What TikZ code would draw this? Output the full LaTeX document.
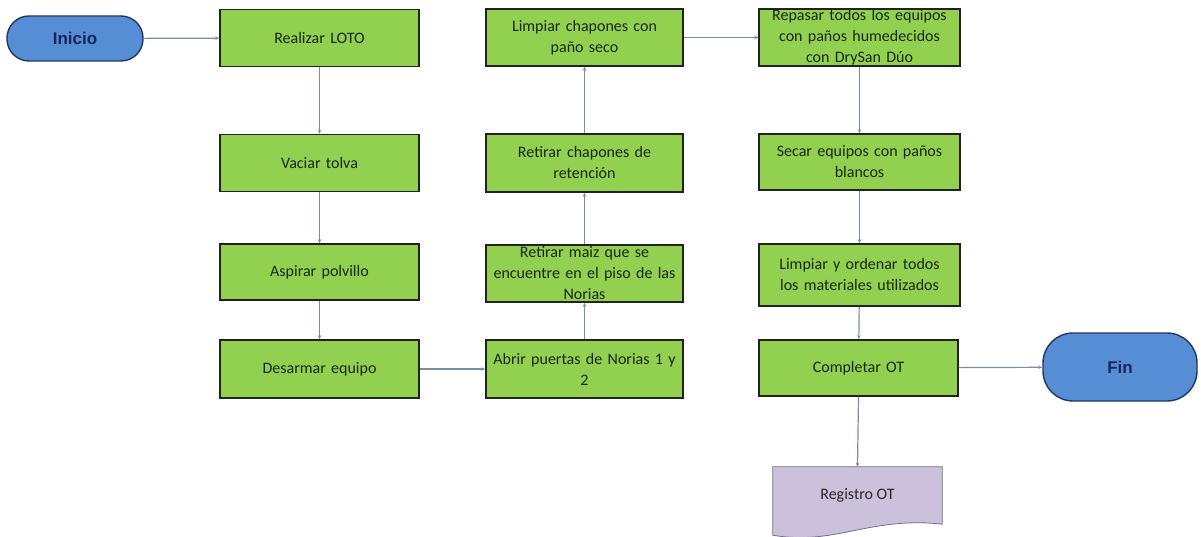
\documentclass[tikz,border=0pt]{standalone}
\usepackage{fontspec}
\setmainfont{Carlito}
\newfontfamily\termfont{Liberation Sans}
\usetikzlibrary{arrows.meta}
\definecolor{procgreen}{HTML}{92D050}
\definecolor{procedge}{HTML}{222222}
\definecolor{proctext}{HTML}{1B2614}
\definecolor{termblue}{HTML}{558ED5}
\definecolor{termedge}{HTML}{1F3864}
\definecolor{termtext}{HTML}{1C2656}
\definecolor{docfill}{HTML}{CCC1DA}
\definecolor{docedge}{HTML}{6F6F8F}
\definecolor{flowline}{HTML}{7A8DA3}
\tikzset{
  proc/.style={draw=procedge, line width=1.6pt, fill=procgreen, inner sep=0pt,
    minimum height=57pt, align=center, text=proctext,
    font=\fontsize{16}{21}\selectfont},
  term/.style={draw=termedge, line width=1.4pt, fill=termblue, inner sep=0pt,
    text=termtext, font=\termfont\bfseries\fontsize{17}{20}\selectfont},
  flow/.style={draw=flowline, line width=1.2pt,
    -{Stealth[length=4pt,width=3.5pt]}},
}
\begin{document}
\begin{tikzpicture}[x=1pt,y=-1pt]
\useasboundingbox (0,0) rectangle (1201,537);

% start / end terminals
\node[term, minimum width=136pt, minimum height=45pt, rounded corners=22pt] (ini) at (75,38.5) {Inicio};
\node[term, minimum width=154pt, minimum height=68pt, rounded corners=30pt] (fin) at (1120,367) {Fin};

% first column
\node[proc, minimum width=199pt, text width=190pt] (loto) at (319.5,38) {Realizar LOTO};
\node[proc, minimum width=199pt, text width=190pt] (vac) at (319.5,163) {Vaciar tolva};
\node[proc, minimum width=199pt, text width=190pt, minimum height=56pt] (asp) at (319.5,272) {Aspirar polvillo};
\node[proc, minimum width=199pt, text width=190pt, minimum height=58pt] (des) at (319.5,369) {Desarmar equipo};

% second column
\node[proc, minimum width=197pt, text width=194pt, minimum height=58pt] (abr) at (584.5,369) {Abrir puertas de Norias 1 y\\2};
\node[proc, minimum width=197pt, text width=194pt] (mai) at (584.5,273.5) {Retirar maiz que se\\encuentre en el piso de las\\Norias};
\node[proc, minimum width=197pt, text width=194pt, minimum height=58pt] (ret) at (584.5,163) {Retirar chapones de\\retención};
\node[proc, minimum width=197pt, text width=194pt] (lch) at (584.5,37.5) {Limpiar chapones con\\paño seco};

% third column
\node[proc, minimum width=201pt, text width=200pt] (rep) at (859.5,37.5) {Repasar todos los equipos\\con paños humedecidos\\con DrySan Dúo};
\node[proc, minimum width=201pt, text width=198pt, minimum height=56pt] (sec) at (859.5,162) {Secar equipos con paños\\blancos};
\node[proc, minimum width=201pt, text width=198pt, minimum height=62pt] (lor) at (859.5,275) {Limpiar y ordenar todos\\los materiales utilizados};
\node[proc, minimum width=199pt, text width=194pt, minimum height=56pt] (com) at (858.5,368) {Completar OT};

% document record with wavy lower edge
\node[minimum width=169pt, minimum height=56pt, inner sep=0pt] (reg) at (857.5,495) {};
\fill[docfill, draw=docedge, line width=0.8pt]
  (reg.north west) -- (reg.north east) -- ([yshift=-1pt]reg.south east)
  .. controls (870,516) and (835,546) .. ([yshift=-12pt]reg.south west) -- cycle;
\node[text=black!85, font=\fontsize{16}{21}\selectfont] at (reg.center) {Registro OT};

% connectors
\draw[flow] (ini) -- (loto);
\draw[flow] (loto) -- (vac);
\draw[flow] (vac) -- (asp);
\draw[flow] (asp) -- (des);
\draw[flow] (des) -- (abr);
\draw[flow] (abr) -- (mai);
\draw[flow] (mai) -- (ret);
\draw[flow] (ret) -- (lch);
\draw[flow] (lch) -- (rep);
\draw[flow] (rep) -- (sec);
\draw[flow] (sec) -- (lor);
\draw[flow] (lor) -- (com);
\draw[flow] (com) -- (fin);
\draw[flow] (com.south) -- (reg.north);
\end{tikzpicture}
\end{document}
